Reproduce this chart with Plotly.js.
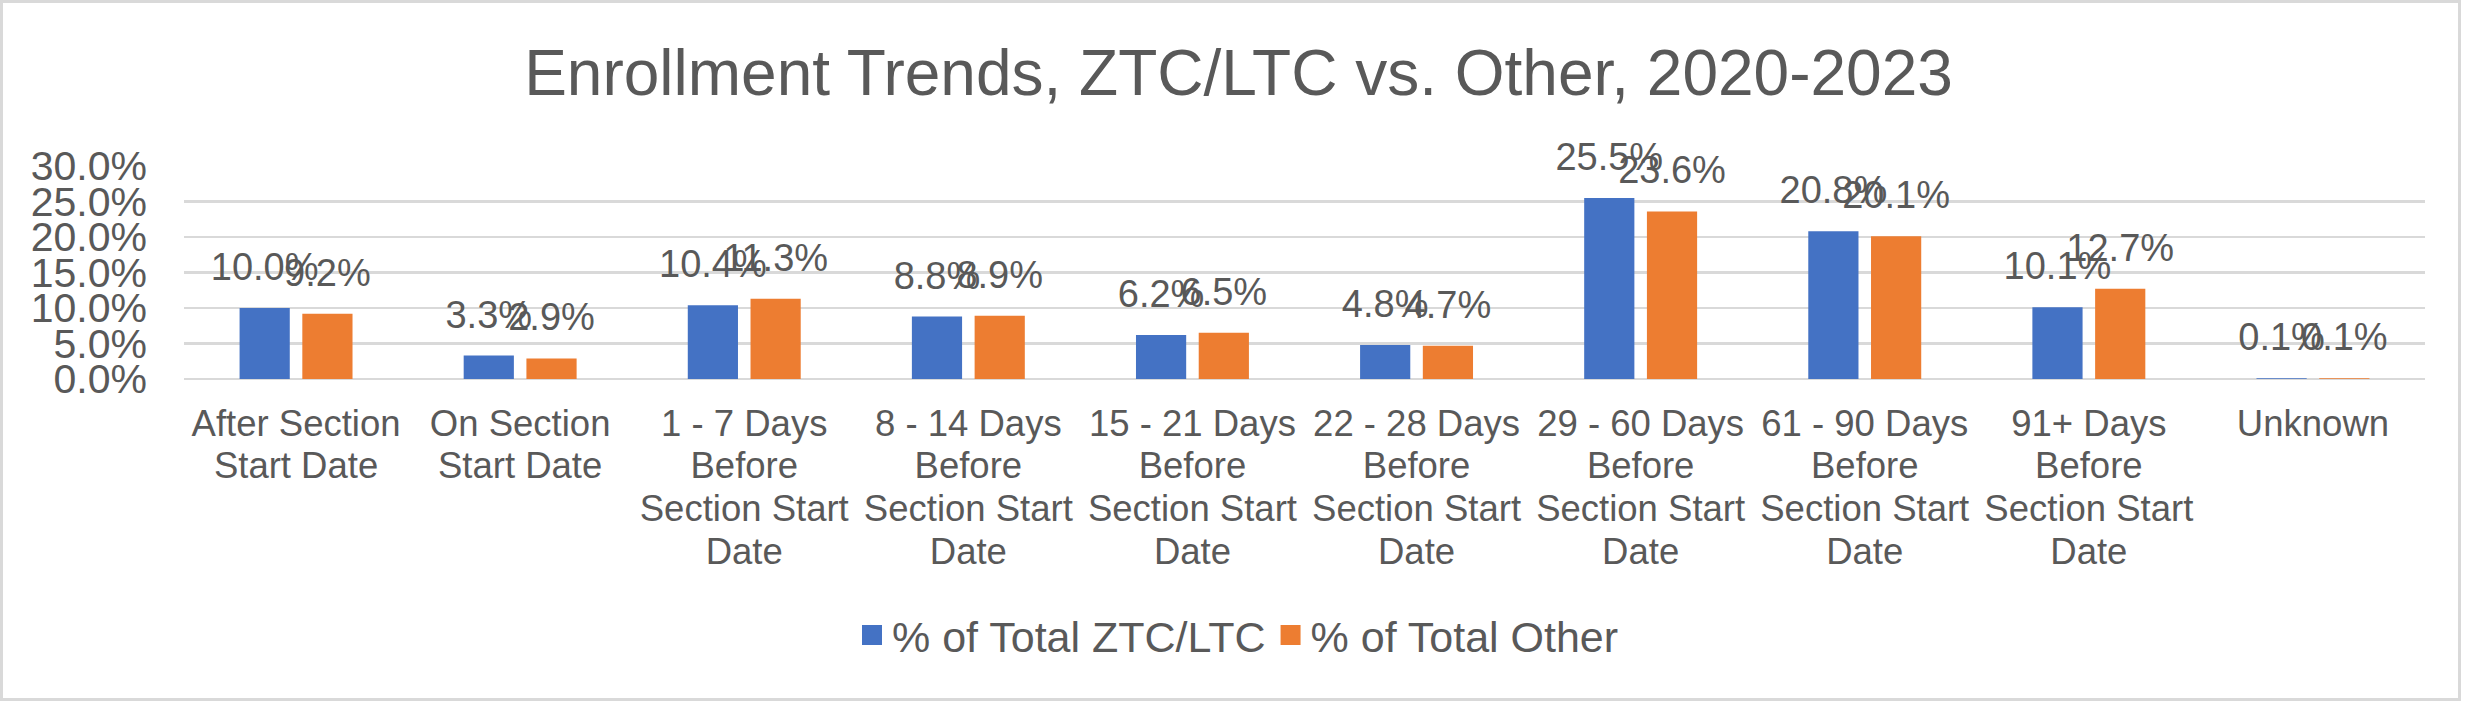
<!DOCTYPE html>
<html>
<head>
<meta charset="utf-8">
<script src="https://cdn.plot.ly/plotly-3.0.1.min.js"></script>
<style>
  html, body { margin: 0; padding: 0; background: #fff; }
  #frame { position: absolute; left: 0; top: 0; width: 2461px; height: 701px; box-sizing: border-box; border: 3px solid #d9d9d9; pointer-events: none; }
  #chart { position: absolute; left: 0; top: 0; width: 2477px; height: 701px; }
</style>
</head>
<body>
<div id="chart"></div>
<div id="frame"></div>
<script>
const categories = [
  "After Section<br>Start Date",
  "On Section<br>Start Date",
  "1 - 7 Days<br>Before<br>Section Start<br>Date",
  "8 - 14 Days<br>Before<br>Section Start<br>Date",
  "15 - 21 Days<br>Before<br>Section Start<br>Date",
  "22 - 28 Days<br>Before<br>Section Start<br>Date",
  "29 - 60 Days<br>Before<br>Section Start<br>Date",
  "61 - 90 Days<br>Before<br>Section Start<br>Date",
  "91+ Days<br>Before<br>Section Start<br>Date",
  "Unknown"
];
const ztcLtc = [10.0, 3.3, 10.4, 8.8, 6.2, 4.8, 25.5, 20.8, 10.1, 0.1];
const other  = [9.2, 2.9, 11.3, 8.9, 6.5, 4.7, 23.6, 20.1, 12.7, 0.1];
const seriesNames = ["% of Total ZTC/LTC", "% of Total Other"];
const seriesColors = ["#4472C4", "#ED7D31"];
const yTickVals = [0, 5, 10, 15, 20, 25, 30];

const FONT = "Liberation Sans, Arial, sans-serif";
const TXT = "#595959";

const series = [ztcLtc, other];
const traces = [];
series.forEach((vals, i) => {
  traces.push({
    type: "bar", x: categories, y: vals, name: seriesNames[i],
    marker: { color: seriesColors[i] }, hoverinfo: "skip"
  });
});
series.forEach((vals, i) => {
  traces.push({
    type: "scatter", mode: "markers+text", x: categories, y: vals,
    text: vals.map(v => v.toFixed(1) + "%"), textposition: "top center",
    textfont: { family: FONT, size: 38, color: TXT },
    marker: { size: 28, color: "rgba(0,0,0,0)" },
    showlegend: false, hoverinfo: "skip", cliponaxis: false
  });
});

const layout = {
  width: 2477, height: 701,
  paper_bgcolor: "#ffffff", plot_bgcolor: "#ffffff",
  margin: { l: 184, r: 52, t: 166, b: 322 },
  font: { family: FONT, color: TXT },
  title: { text: "Enrollment Trends, ZTC/LTC vs. Other, 2020-2023",
    font: { family: FONT, size: 64, color: TXT },
    x: 0.5, xref: "container", xanchor: "center",
    y: 1 - 73 / 701, yref: "container", yanchor: "middle" },
  barmode: "group", bargap: 0.44, bargroupgap: 0.2,
  scattermode: "group", scattergap: 0.44,
  xaxis: { type: "category", showgrid: false, showline: false, zeroline: false,
    ticks: "", tickfont: { family: FONT, size: 36.5, color: TXT }, tickangle: 0,
    ticklabelstandoff: 19, automargin: false },
  yaxis: { range: [0, 30], tickvals: yTickVals,
    ticktext: yTickVals.map(v => v.toFixed(1) + "%"),
    showgrid: true, gridcolor: "#D9D9D9", gridwidth: 2.7,
    zeroline: true, zerolinecolor: "#D9D9D9", zerolinewidth: 2.7,
    showline: false, ticks: "", ticklabelstandoff: 36,
    tickfont: { family: FONT, size: 41, color: TXT }, automargin: false },
  legend: { orientation: "h", x: (1238 - 184) / 2241, xanchor: "center",
    y: -(635 - 379) / 213, yanchor: "middle",
    font: { family: FONT, size: 43, color: TXT }, bgcolor: "rgba(0,0,0,0)" },
  showlegend: true
};

Plotly.newPlot("chart", traces, layout, { staticPlot: true, displayModeBar: false }).then(gd => {
  // tighter line spacing for the multi-line category labels (Excel-like)
  gd.querySelectorAll(".xtick text").forEach(t => {
    t.querySelectorAll("tspan.line").forEach((ln, k) => ln.setAttribute("dy", (k * 1.17) + "em"));
  });
  // larger square legend swatches
  gd.querySelectorAll(".legend .legendpoints path").forEach(p => p.setAttribute("d", "M10,10H-10V-10H10Z"));
});
</script>
</body>
</html>
